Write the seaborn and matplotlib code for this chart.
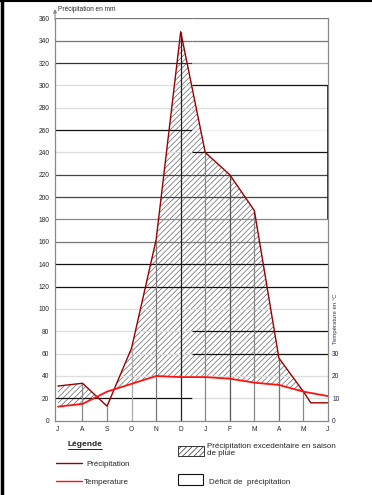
import numpy as np
import seaborn as sns
import matplotlib.pyplot as plt
from matplotlib.lines import Line2D
from matplotlib.patches import Rectangle

# Monthly data (hydrological year, July -> June)
months = ["J", "A", "S", "O", "N", "D", "J", "F", "M", "A", "M", "J"]
precip_pos = [0, 1, 2, 3, 4, 5, 6, 7, 8, 9, 10, 10.3, 11]
precip_mm = [31, 33.5, 13, 65, 162, 348, 240, 220, 188, 56, 26, 16, 16]
temp_c = [6.3, 7.5, 13, 16.5, 20, 19.5, 19.5, 18.8, 17, 16, 13, 11]
temp_ticks = [0, 10, 20, 30]
precip_ticks = list(range(0, 361, 20))

# grid line colours left / right of the split (scanned sheet, uneven lines)
grid_left = ["#aaaaaa", "#111111", "#dddddd", "#dddddd", "#dddddd", "#dddddd", "#111111", "#111111",
             "#777777", "#888888", "#444444", "#444444", "#dddddd", "#111111", "#dddddd",
             "#dddddd", "#333333", "#777777", "#777777"]
grid_right = ["#aaaaaa", "#dddddd", "#dddddd", "#111111", "#111111", "#dddddd", "#111111", "#111111",
              "#777777", "#888888", "#444444", "#444444", "#111111", "#f0f0f0", "#dddddd",
              "#111111", "#aaaaaa", "#777777", "#777777"]
vline_colors = ["#999999", "#888888", "#888888", "#aaaaaa", "#777777", "#222222",
                "#888888", "#555555", "#888888", "#777777", "#888888", "#888888"]

sns.set_style("white")
plt.rcParams["font.family"] = ["Liberation Sans", "DejaVu Sans"]
plt.rcParams["hatch.linewidth"] = 0.5

W, H = 372, 495
fig = plt.figure(figsize=(W / 100, H / 100), dpi=100)
ax = fig.add_axes([55 / W, 1 - 420.7 / H, (328 - 55) / W, (420.7 - 18.3) / H])

x_split = 5.46
ax.set_xlim(-0.12, 11)
ax.set_ylim(0, 360)

# hatched surplus between the two curves (P = 2T)
temp_mm = [2 * t for t in temp_c]
xx = np.union1d(precip_pos, np.arange(12))
pp = np.interp(xx, precip_pos, precip_mm)
tt = np.interp(xx, np.arange(12), temp_mm)
ax.fill_between(xx, tt, pp, where=pp > tt, interpolate=True, facecolor="white",
                edgecolor="#666666", hatch="//////", linewidth=0, zorder=1)

# horizontal lines
for lvl, cl, cr in zip(precip_ticks, grid_left, grid_right):
    if lvl == 0:
        continue
    ax.hlines(lvl, -0.12, x_split, color=cl, lw=0.9, zorder=2)
    ax.hlines(lvl, x_split, 11, color=cr, lw=0.9, zorder=2)
ax.vlines(11, 180, 300, color="#111111", lw=1.2, zorder=3)

# vertical month lines up to the precipitation curve
for i in range(1, 11):
    ax.vlines(i, 0, np.interp(i, precip_pos, precip_mm), color=vline_colors[i], lw=0.9, zorder=2)

sns.lineplot(x=precip_pos, y=precip_mm, ax=ax, color="#990000", lw=1.0,
             estimator=None, sort=False, zorder=4)
sns.lineplot(x=list(range(12)), y=temp_mm, ax=ax, color="#ff1111", lw=1.3,
             estimator=None, sort=False, zorder=4)

ax.set_xticks(range(12))
ax.set_xticklabels(months, fontsize=4.8)
ax.set_yticks(precip_ticks)
ax.set_yticklabels([str(v) for v in precip_ticks], fontsize=4.8)
ax.tick_params(axis="x", length=2, width=0.6, color="#888888", pad=2)
ax.tick_params(axis="y", length=0, pad=4)
for s in ["top", "right"]:
    ax.spines[s].set_visible(False)
for s in ["left", "bottom"]:
    ax.spines[s].set_color("#888888")
    ax.spines[s].set_linewidth(0.9)
ax.annotate("", xy=(0, 1.03), xytext=(0, 0.99), xycoords="axes fraction",
            arrowprops=dict(arrowstyle="-|>", color="#888888", lw=0.8, mutation_scale=5))
ax.text(0.01, 1.012, "Précipitation en mm", transform=ax.transAxes, fontsize=4.7, va="bottom")

ax2 = ax.twinx()
ax2.set_ylim(0, 180)
ax2.set_yticks(temp_ticks)
ax2.set_yticklabels([str(v) for v in temp_ticks], fontsize=4.8, color="#222244")
ax2.tick_params(axis="y", length=0, pad=3)
for s in ["top", "left", "bottom"]:
    ax2.spines[s].set_visible(False)
ax2.spines["right"].set_color("#888888")
ax2.spines["right"].set_linewidth(0.9)
fig.text(336 / W, 1 - 319 / H, "Température en °C", rotation=90, fontsize=4.3,
         color="#333355", ha="center", va="center")

# legend block
def fx(px):
    return px / W

def fy(py):
    return 1 - py / H

fig.text(fx(68), fy(444), "Légende", fontsize=6, fontweight="bold", va="center")
fig.add_artist(Line2D([fx(68), fx(102)], [fy(449), fy(449)], color="black", lw=0.6))
fig.add_artist(Line2D([fx(56), fx(82)], [fy(463), fy(463)], color="#990000", lw=1.0))
fig.text(fx(86), fy(464), "Précipitation", fontsize=5.7, va="center")
fig.add_artist(Line2D([fx(56), fx(82)], [fy(481), fy(481)], color="#ff1111", lw=1.0))
fig.text(fx(84), fy(482), "Temperature", fontsize=5.8, va="center")
fig.add_artist(Rectangle((fx(178), fy(456)), fx(26), 10 / H, transform=fig.transFigure,
                         facecolor="white", edgecolor="#333333", hatch="//////", lw=0.7))
fig.text(fx(207), fy(443), "Précipitation excedentaire en saison\nde pluie", fontsize=5.8,
         va="top", linespacing=0.95)
fig.add_artist(Rectangle((fx(178), fy(485)), fx(25), 11 / H, transform=fig.transFigure,
                         facecolor="white", edgecolor="#111111", lw=0.8))
fig.text(fx(209), fy(482), "Déficit de  précipitation", fontsize=5.8, va="center")

# page border from the scan
fig.add_artist(Line2D([1.5 / W, 1.5 / W], [0, 1], color="black", lw=2.5))
fig.add_artist(Line2D([0, 1], [1 - 1 / H, 1 - 1 / H], color="black", lw=1.5))

fig.savefig("out.png", dpi=100)
